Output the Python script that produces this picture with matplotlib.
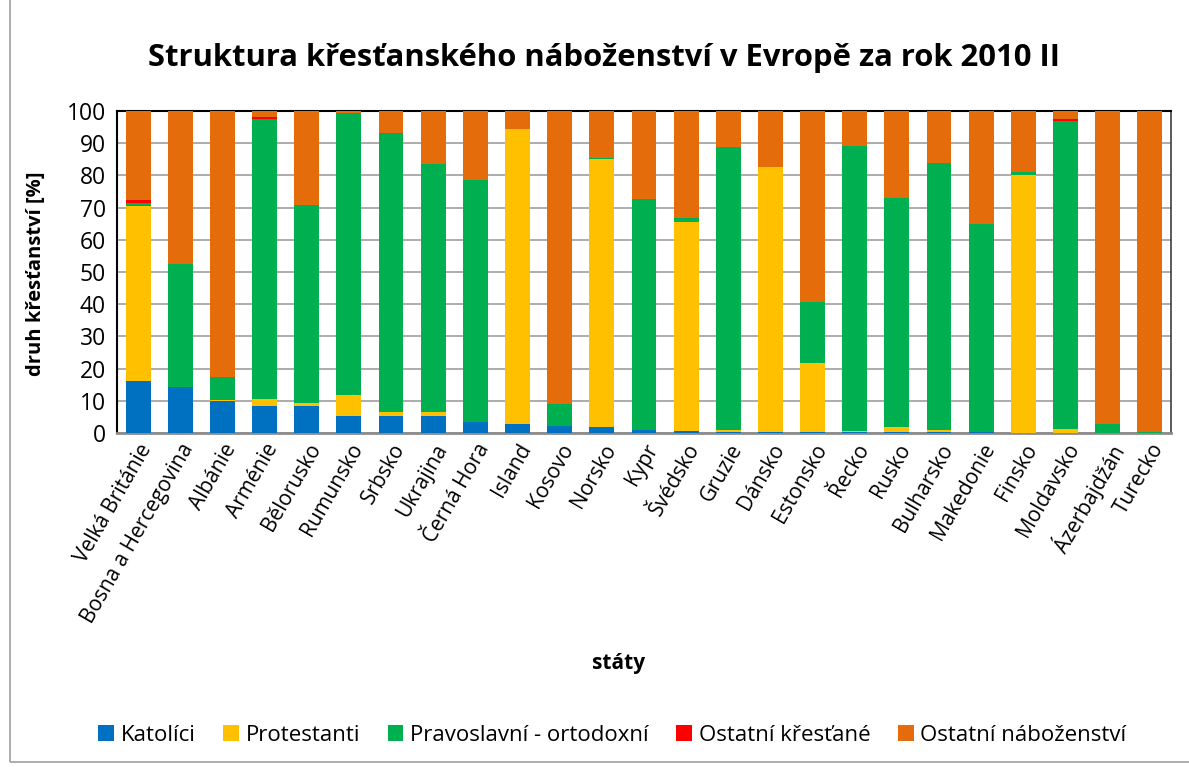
import numpy as np
import matplotlib
matplotlib.use('Agg')
from matplotlib import pyplot as plt
from matplotlib.patches import Rectangle, Patch

plt.rcParams['font.family'] = ['Open Sans', 'DejaVu Sans']

# státy
staty = ['Velká Británie', 'Bosna a Hercegovina', 'Albánie', 'Arménie', 'Bělorusko',
         'Rumunsko', 'Srbsko', 'Ukrajina', 'Černá Hora', 'Island', 'Kosovo', 'Norsko',
         'Kypr', 'Švédsko', 'Gruzie', 'Dánsko', 'Estonsko', 'Řecko', 'Rusko',
         'Bulharsko', 'Makedonie', 'Finsko', 'Moldavsko', 'Ázerbajdžán', 'Turecko']

# podíly v %
katolici = [16.0, 14.2, 9.9, 8.4, 8.4, 5.4, 5.2, 5.2, 3.4, 2.9, 2.1, 1.7,
            0.9, 0.7, 0.4, 0.4, 0.4, 0.4, 0.2, 0.2, 0.2, 0.1, 0.1, 0.0, 0.0]
protestanti = [54.4, 0.1, 0.4, 2.3, 1.0, 6.3, 1.4, 1.4, 0.0, 91.5, 0.0, 83.4,
               0.0, 64.8, 0.5, 82.2, 21.2, 0.3, 1.8, 0.6, 0.1, 80.0, 1.1, 0.0, 0.0]
pravoslavni = [1.0, 38.1, 7.2, 86.7, 61.5, 87.6, 86.7, 76.8, 75.2, 0.0, 6.8, 0.4,
               71.9, 1.4, 87.9, 0.0, 19.2, 88.4, 71.0, 83.1, 64.7, 1.0, 95.7, 2.7, 0.2]
ostatni_kr = [0.8, 0.0, 0.0, 0.8, 0.0, 0.0, 0.0, 0.0, 0.0, 0.0, 0.0, 0.0,
              0.0, 0.0, 0.0, 0.0, 0.0, 0.0, 0.0, 0.0, 0.0, 0.0, 0.5, 0.0, 0.0]

serie = ['Katolíci', 'Protestanti', 'Pravoslavní - ortodoxní', 'Ostatní křesťané', 'Ostatní náboženství']
barvy = ['#0070C0', '#FFC000', '#00B050', '#FF0000', '#E46C0A']

data = np.array([katolici, protestanti, pravoslavni, ostatni_kr], dtype=float)
ostatni_nab = 100 - data.sum(axis=0)
data = np.vstack([data, ostatni_nab])

fig = plt.figure(figsize=(11.89, 7.67), dpi=100)
ax = fig.add_axes([0.0984, 0.4355, 0.8864, 0.4198])

# ramecek kolem grafu
fig.patches.append(Rectangle((10 / 1189, 5 / 767), 1.5, 1.5, transform=fig.transFigure,
                             fill=False, edgecolor='#a0a0a0', linewidth=1.2))

x = np.arange(len(staty))
dole = np.zeros(len(staty))
for hodnoty, nazev, barva in zip(data, serie, barvy):
    ax.bar(x, hodnoty, 0.59, bottom=dole, color=barva, label=nazev, zorder=3)
    dole += hodnoty

ax.set_xlim(-0.5, len(staty) - 0.5)
ax.set_ylim(0, 100)
ax.set_yticks(np.arange(0, 101, 10))
ax.tick_params(axis='y', labelsize=16.5, length=0, pad=8)
ax.tick_params(axis='x', length=0, pad=5)
ax.set_xticks(x)
ax.set_xticklabels(staty, rotation=60, ha='right', rotation_mode='anchor', fontsize=15)
ax.grid(axis='y', color='#a6a6a6', linewidth=1.3, zorder=0)

for s in ['left', 'top']:
    ax.spines[s].set_color('black')
    ax.spines[s].set_linewidth(1.5)
ax.spines['right'].set_color('#404040')
ax.spines['right'].set_linewidth(1.2)
ax.spines['bottom'].set_color('#8c8c8c')
ax.spines['bottom'].set_linewidth(2)

fig.text(0.508, 0.924, 'Struktura křesťanského náboženství v Evropě za rok 2010 II',
         ha='center', va='center', fontsize=22.3, fontweight='bold')
fig.text(0.030, 0.643, 'druh křesťanství [%]', rotation=90, ha='center', va='center',
         fontsize=14.5, fontweight='bold')
fig.text(0.520, 0.135, 'státy', ha='center', va='center', fontsize=15, fontweight='bold')

handles = [Patch(facecolor=b, label=n) for n, b in zip(serie, barvy)]
fig.legend(handles=handles, loc='center', bbox_to_anchor=(0.515, 0.041), ncol=5,
           frameon=False, fontsize=16, handlelength=0.7, handleheight=0.7,
           handletextpad=0.3, columnspacing=1.25)

fig.savefig('out.png', dpi=100)
